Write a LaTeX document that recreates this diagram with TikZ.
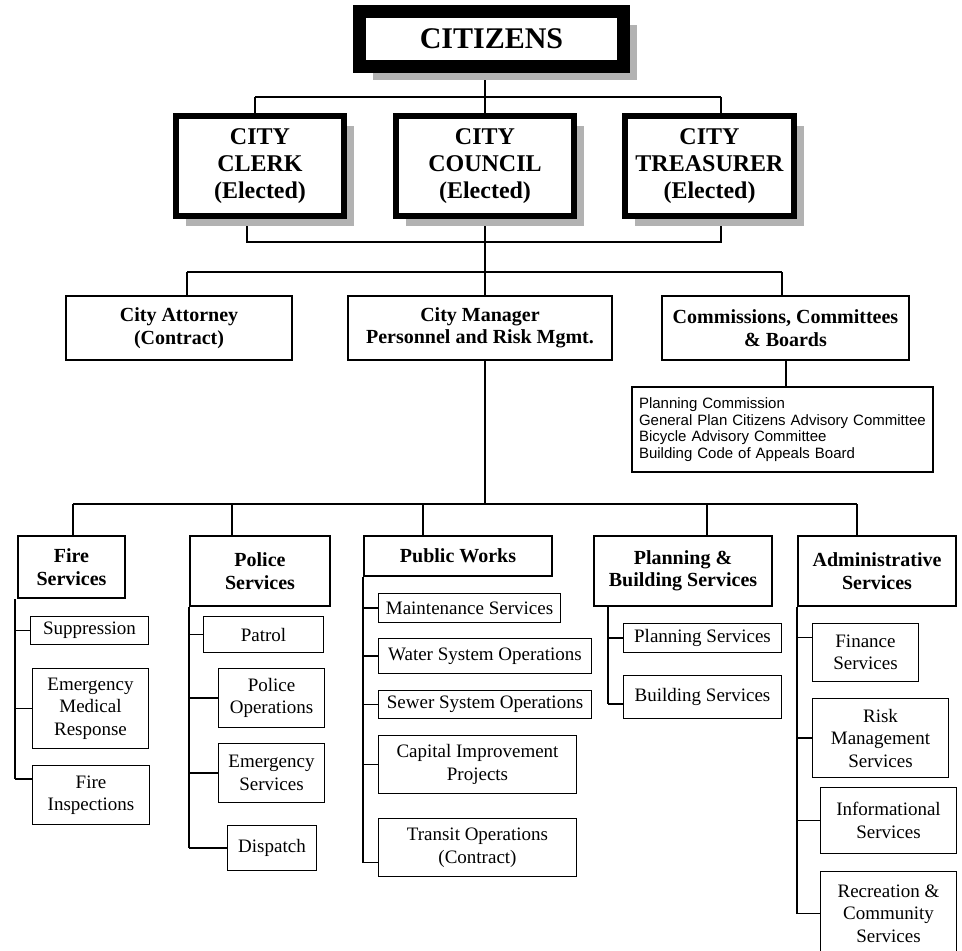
\documentclass[tikz,border=0pt]{standalone}
\usepackage{fontspec}
\setmainfont{Liberation Serif}
\newfontfamily\listfont{Liberation Sans}
\usetikzlibrary{positioning,calc,shadows,backgrounds}

\begin{document}
\begin{tikzpicture}[
		x=1pt,y=-1pt,
		every node/.style={fill=white},
		conn/.style={line width=2pt},
		subconn/.style={line width=1.6pt},
		topbox/.style={draw, line width=13pt, inner sep=0pt,
			font=\fontsize{30}{33}\selectfont\bfseries,
			drop shadow={shadow xshift=13.5pt, shadow yshift=-13.5pt, fill=gray!60, opacity=1}},
		electbox/.style={draw, line width=6.5pt, inner sep=0pt, align=center,
			font=\fontsize{24}{27}\selectfont\bfseries,
			drop shadow={shadow xshift=10pt, shadow yshift=-10pt, fill=gray!60, opacity=1}},
		headbox/.style={draw, line width=2.5pt, inner sep=0pt, align=center,
			font=\fontsize{20}{22.5}\selectfont\bfseries},
		unitbox/.style={draw, line width=1.6pt, inner sep=0pt, align=center,
			font=\fontsize{19}{22.5}\selectfont}
		]
		
		\useasboundingbox (0,0) rectangle (962,951);
		\clip (0,0) rectangle (962,951);
		
		% =========================
		% Top: citizens and elected officials
		% =========================
		\node[topbox, minimum width=264pt, minimum height=55pt] (citz) at (491.5,39) {CITIZENS};
		
		\node[electbox, minimum width=168pt, minimum height=100pt] (clerk) at (260,166) {CITY\\CLERK\\(Elected)};
		\node[electbox, minimum width=178pt, minimum height=100pt] (council) at (485,166) {CITY\\COUNCIL\\(Elected)};
		\node[electbox, minimum width=169pt, minimum height=100pt] (treas) at (709.5,166) {CITY\\TREASURER\\(Elected)};
		
		% =========================
		% Middle: appointed
		% =========================
		\node[headbox, minimum width=226pt, minimum height=64pt] (atty) at (179,328) {City Attorney\\(Contract)};
		\node[headbox, minimum width=264pt, minimum height=64pt] (mgr) at (480,328) {City Manager\\Personnel and Risk Mgmt.};
		\node[headbox, minimum width=247pt, minimum height=64pt] (comm) at (785.5,328) {Commissions, Committees\\\& Boards};
		
		\node[draw, line width=2pt, inner xsep=7pt, inner ysep=0pt, text width=287pt, minimum height=85pt,
		align=left, font=\listfont\fontsize{15}{16.7}\selectfont] (cmlist) at (782.5,429.5)
		{Planning Commission\\
			General Plan Citizens Advisory Committee\\
			Bicycle Advisory Committee\\
			Building Code of Appeals Board};
		
		% =========================
		% Bottom: departments
		% =========================
		\node[headbox, minimum width=107pt, minimum height=62pt] (fire) at (71.5,567) {Fire\\Services};
		\node[headbox, minimum width=140pt, minimum height=70pt] (pol) at (260,571) {Police\\Services};
		\node[headbox, minimum width=188pt, minimum height=40pt] (pw) at (458,556) {Public Works};
		\node[headbox, minimum width=178pt, minimum height=70pt] (plan) at (683,571) {Planning \&\\Building Services};
		\node[headbox, minimum width=158pt, minimum height=70pt] (adm) at (877,571) {Administrative\\Services};
		
		% fire
		\node[unitbox, minimum width=118pt, minimum height=28pt] (supp) at (89.5,630.5) {Suppression};
		\node[unitbox, minimum width=116pt, minimum height=80pt] (emr) at (90.5,708.5) {Emergency\\Medical\\Response};
		\node[unitbox, minimum width=117pt, minimum height=59pt] (finsp) at (91,795) {Fire\\Inspections};
		
		% police
		\node[unitbox, minimum width=120pt, minimum height=36pt] (patrol) at (263.5,634.5) {Patrol};
		\node[unitbox, minimum width=106pt, minimum height=59pt] (polops) at (271.5,698) {Police\\Operations};
		\node[unitbox, minimum width=106pt, minimum height=59pt] (emsvc) at (271.5,773) {Emergency\\Services};
		\node[unitbox, minimum width=89pt, minimum height=45pt] (disp) at (272,848) {Dispatch};
		
		% public works
		\node[unitbox, minimum width=182pt, minimum height=29pt] (maint) at (469.5,608) {Maintenance Services};
		\node[unitbox, minimum width=213pt, minimum height=35pt] (water) at (485,656) {Water System Operations};
		\node[unitbox, minimum width=213pt, minimum height=28pt] (sewer) at (485,704.5) {Sewer System Operations};
		\node[unitbox, minimum width=198pt, minimum height=58pt] (capital) at (477.5,764.5) {Capital Improvement\\Projects};
		\node[unitbox, minimum width=198pt, minimum height=58pt] (transit) at (477.5,847.5) {Transit Operations\\(Contract)};
		
		% planning
		\node[unitbox, minimum width=158pt, minimum height=29pt] (plsvc) at (702.5,638) {Planning Services};
		\node[unitbox, minimum width=158pt, minimum height=43pt] (bldsvc) at (702.5,697) {Building Services};
		
		% administrative
		\node[unitbox, minimum width=106pt, minimum height=58pt] (fin) at (865.5,652.5) {Finance\\Services};
		\node[unitbox, minimum width=136pt, minimum height=79pt] (risk) at (880.5,738) {Risk\\Management\\Services};
		\node[unitbox, minimum width=136pt, minimum height=66pt] (info) at (888.5,820.5) {Informational\\Services};
		\node[unitbox, minimum width=136pt, minimum height=84pt] (rec) at (888.5,913.5) {Recreation \&\\Community\\Services};
		
		% =========================
		% Connectors (behind the boxes)
		% =========================
		\begin{scope}[on background layer]
			% citizens to elected
			\coordinate (busAw) at (255,97);
			\coordinate (busAe) at (721,97);
			\draw[conn] (busAw) -- (busAe);
			\draw[conn] (busAw) -- (busAw |- clerk.north);
			\draw[conn] (busAe) -- (busAe |- treas.north);
			\draw[conn] (council.north) -- (council.north |- citz.south);
			
			% clerk and treasurer bracket
			\coordinate (busBw) at (247,242);
			\coordinate (busBe) at (721,242);
			\draw[conn] (busBw |- clerk.south) -- (busBw) -- (busBe) -- (busBe |- treas.south);
			
			% council to appointed
			\coordinate (busCw) at (187,272);
			\coordinate (busCe) at (782,272);
			\draw[conn] (council.south) -- (council.south |- mgr.north);
			\draw[conn] (busCw) -- (busCe);
			\draw[conn] (busCw) -- (busCw |- atty.north);
			\draw[conn] (busCe) -- (busCe |- comm.north);
			\draw[conn] (comm.south) -- (comm.south |- cmlist.north);
			
			% manager to departments
			\coordinate (busDw) at (73,504);
			\coordinate (busDe) at (857,504);
			\draw[conn] (busDw) -- (busDe);
			\draw[conn] (council.south |- mgr.south) -- (council.south |- busDw);
			\foreach \n/\x in {fire/73,pol/232,pw/423,plan/707,adm/857} {
				\coordinate (drop\n) at (\x,504);
				\draw[conn] (drop\n) -- (drop\n |- \n.north);
			}
			
			% department spines
			\coordinate (spfire) at ([xshift=-2pt]fire.south west);
			\coordinate (sppol) at (pol.south west);
			\coordinate (sppw) at (pw.south west);
			\coordinate (spplan) at ([xshift=15pt]plan.south west);
			\coordinate (spadm) at (adm.south west);
			
			\coordinate (finspin) at ([yshift=16pt]finsp.west);
			\coordinate (transin) at ([yshift=-15pt]transit.west);
			\coordinate (finin) at ([yshift=15pt]fin.west);
			\coordinate (bldin) at ([yshift=-7pt]bldsvc.west);
			
			\draw[subconn] (spfire) -- (spfire |- finspin);
			\foreach \p in {supp.west,emr.west,finspin}
			\draw[subconn] (spfire |- \p) -- (\p);
			
			\draw[subconn] (sppol) -- (sppol |- disp.west);
			\foreach \p in {patrol.west,polops.west,emsvc.west,disp.west}
			\draw[subconn] (sppol |- \p) -- (\p);
			
			\draw[subconn] (sppw) -- (sppw |- transin);
			\foreach \p in {maint.west,water.west,sewer.west,capital.west,transin}
			\draw[subconn] (sppw |- \p) -- (\p);
			
			\draw[subconn] (spplan) -- (spplan |- bldin);
			\foreach \p in {plsvc.west,bldin}
			\draw[subconn] (spplan |- \p) -- (\p);
			
			\draw[subconn] (spadm) -- (spadm |- rec.west);
			\foreach \p in {finin,risk.west,info.west,rec.west}
			\draw[subconn] (spadm |- \p) -- (\p);
		\end{scope}
		
	\end{tikzpicture}
\end{document}
